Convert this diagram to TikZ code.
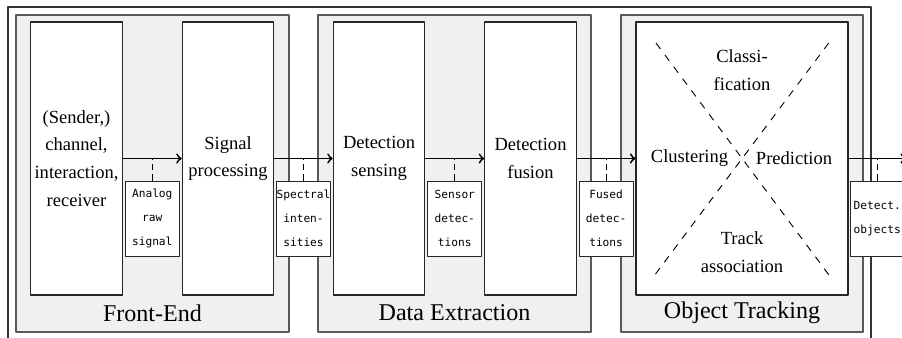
\documentclass[tikz,border=0pt]{standalone}
\usepackage{fontspec}
\setmainfont{Liberation Serif}
\setmonofont{DejaVu Sans Mono}
\usetikzlibrary{positioning}
\usetikzlibrary{calc}

\begin{document}
\begin{tikzpicture}[x=0.54pt, y=0.54pt, line join=round,
    stage/.style={draw=black!85, fill=white, line width=0.6pt, inner sep=0pt, minimum height=147.4pt, minimum width=49.4pt, align=center, font=\fontsize{10}{15}\selectfont},
    group/.style={draw=black!65, fill=black!6, line width=0.6pt, inner sep=0pt, minimum height=171.2pt},
    grouptitle/.style={font=\fontsize{13}{15}\selectfont, inner sep=0pt},
    part/.style={align=center, font=\fontsize{10}{15}\selectfont, inner sep=0pt},
    tag/.style={draw=black!85, fill=white, line width=0.5pt, inner sep=0pt, minimum width=29.2pt, minimum height=40.6pt, align=center, font=\fontsize{6.05}{13}\selectfont\ttfamily},
    flow/.style={->, line width=1pt},
    hook/.style={dash pattern=on 3.5pt off 2pt, line width=0.5pt},
    cross/.style={dash pattern=on 4pt off 4pt, line width=0.5pt}]
  \useasboundingbox (0,0) rectangle (902,337);
  \draw[black!80, line width=0.6pt] (8,-20) -- (8,330) -- (871,330) -- (871,-20);

  \node[group, minimum width=147.4pt] (frontend) at (152.5,163.5) {};
  \node[group, minimum width=147.4pt] (extraction) at (454.5,163.5) {};
  \node[group, minimum width=130.7pt] (objtracking) at (742,163.5) {};
  \node[grouptitle] (frontendtitle) at (152.5,24) {Front-End};
  \node[grouptitle] (extractiontitle) at (454.5,24) {Data Extraction};
  \node[grouptitle] (objtrackingtitle) at (742,24) {Object Tracking};

  \node[stage] (channel) at (76.5,178.5) {(Sender,)\\channel,\\interaction,\\receiver};
  \node[stage] (sigproc) at (228,178.5) {Signal\\processing};
  \node[stage] (sensing) at (379,178.5) {Detection\\sensing};
  \node[stage] (fusion) at (530.5,178.5) {Detection\\fusion};
  \node[stage, minimum width=114.5pt] (tracking) at (742,178.5) {};
  \coordinate (out) at (906,178.5);

  \draw[cross] (656,294) -- (832.7,57);
  \draw[cross] (828.7,294) -- (651,57);
  \node[part] (classif) at (742,266.5) {Classi-\\fication};
  \node[part] (cluster) at (689.5,179) {Clustering};
  \node[part] (predict) at (794,179) {Prediction};
  \node[part] (assoc) at (742,85) {Track\\association};

  \draw[flow] (channel) -- (sigproc);
  \draw[flow] (sigproc) -- (sensing);
  \draw[flow] (sensing) -- (fusion);
  \draw[flow] (fusion) -- (tracking);
  \draw[flow] (tracking) -- (out);

  \coordinate (m1) at ($(channel.east)!.5!(sigproc.west)$);
  \coordinate (m2) at ($(sigproc.east)!.5!(sensing.west)$);
  \coordinate (m3) at ($(sensing.east)!.5!(fusion.west)$);
  \coordinate (m4) at ($(fusion.east)!.5!(tracking.west)$);
  \coordinate (m5) at ($(tracking.east)!.5!(out)$);
  \node[tag, below=11.9pt of m1] (rawsignal) {Analog\\raw\\signal};
  \node[tag, below=11.9pt of m2] (spectra) {Spectral\\inten-\\sities};
  \node[tag, below=11.9pt of m3] (sensordet) {Sensor\\detec-\\tions};
  \node[tag, below=11.9pt of m4] (fuseddet) {Fused\\detec-\\tions};
  \node[tag, below=11.9pt of m5] (objects) {Detect.\\objects};
  \draw[hook] (rawsignal) -- (m1);
  \draw[hook] (spectra) -- (m2);
  \draw[hook] (sensordet) -- (m3);
  \draw[hook] (fuseddet) -- (m4);
  \draw[hook] (objects) -- (m5);
\end{tikzpicture}
\end{document}
